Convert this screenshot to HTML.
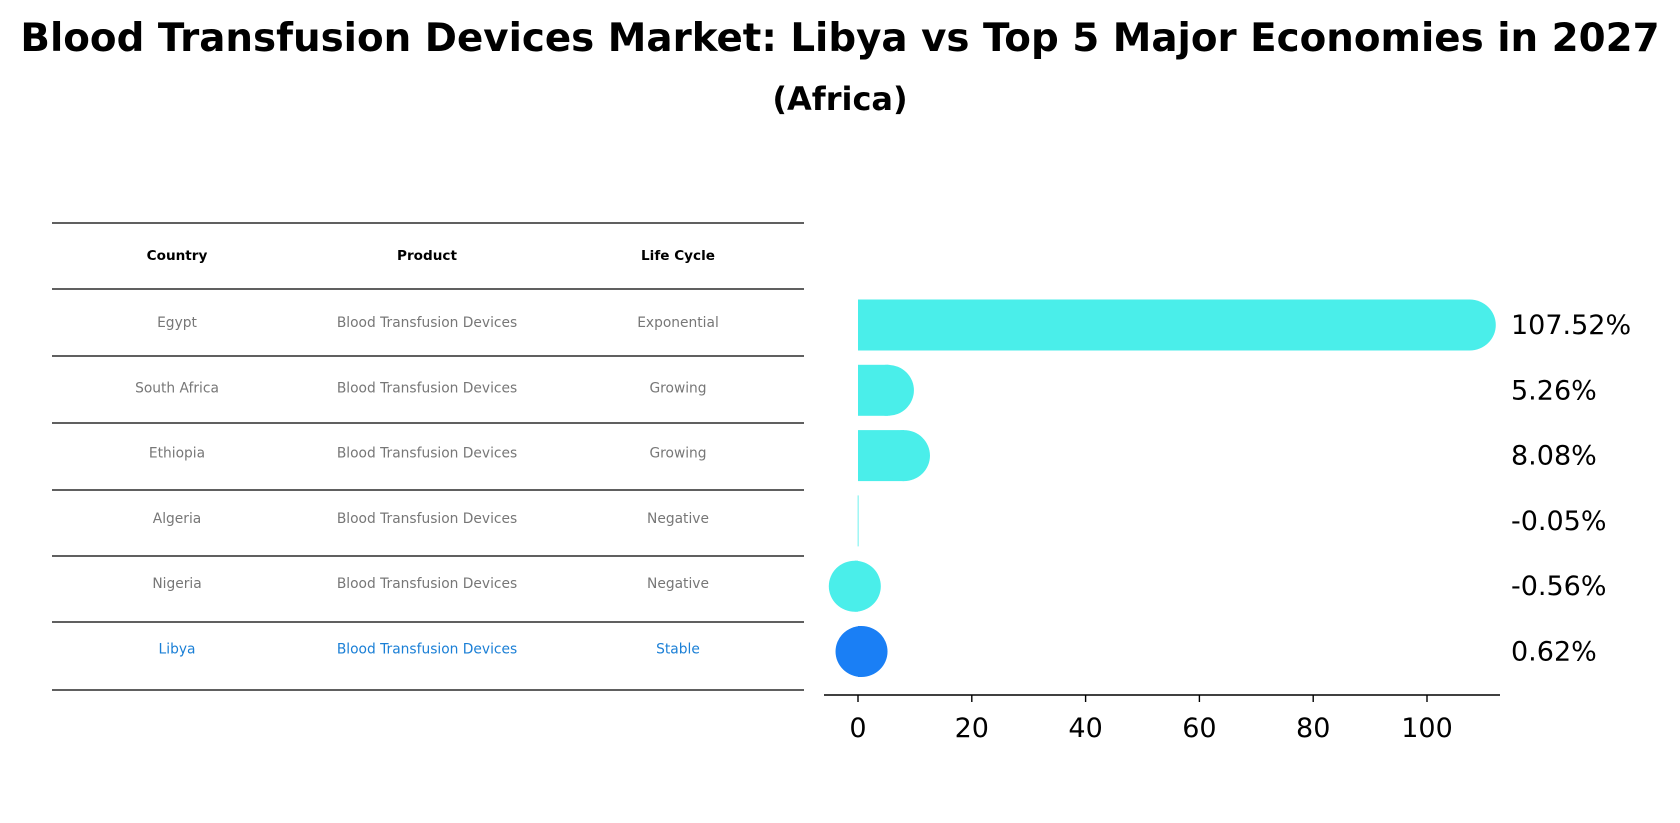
<!DOCTYPE html>
<html><head><meta charset="utf-8"><style>
body{margin:0;background:#fff;font-family:"DejaVu Sans","Liberation Sans",sans-serif}
svg{display:block}
</style></head><body>
<svg width="1680" height="823" id="c">
<text x="840" y="51" text-anchor="middle" font-size="38.8" font-weight="bold">Blood Transfusion Devices Market: Libya vs Top 5 Major Economies in 2027</text>
<text x="840" y="110" text-anchor="middle" font-size="32" font-weight="bold">(Africa)</text>
<g id="table"></g>
<g id="bars"></g>
</svg>
<script>
const countries=["Egypt","South Africa","Ethiopia","Algeria","Nigeria","Libya"];
const products=["Blood Transfusion Devices","Blood Transfusion Devices","Blood Transfusion Devices","Blood Transfusion Devices","Blood Transfusion Devices","Blood Transfusion Devices"];
const lifecycles=["Exponential","Growing","Growing","Negative","Negative","Stable"];
const values=[107.52,5.26,8.08,-0.05,-0.56,0.62];
const valueLabels=["107.52%","5.26%","8.08%","-0.05%","-0.56%","0.62%"];
const xTicks=[0,20,40,60,80,100];
const NS="http://www.w3.org/2000/svg";
function mk(t,a,p,txt){const e=document.createElementNS(NS,t);for(const k in a)e.setAttribute(k,a[k]);if(txt!==undefined)e.textContent=txt;p.appendChild(e);return e;}
const xs=v=>858+v*5.69;
const rowY=i=>325+i*65.3;
const tb=document.getElementById('table');
const lineYs=[223,289,356,423,490,556,622,690];
lineYs.forEach(y=>{const l=mk('line',{x1:52,x2:804,y1:y,y2:y,stroke:'#000','stroke-width':1.2},tb);

});
const cols=[177,427,678];
["Country","Product","Life Cycle"].forEach((h,j)=>{const t=mk('text',{x:cols[j],y:260,'text-anchor':'middle','font-size':13.6,'font-weight':'bold'},tb,h);

});
countries.forEach((c,i)=>{const y=rowY(i)+2;const col=i===5?'#1a7fd6':'#777';
[c,products[i],lifecycles[i]].forEach((s,j)=>{const t=mk('text',{x:cols[j],y:y,'text-anchor':'middle','font-size':13.8,fill:col},tb,s);

});});
const g=document.getElementById('bars');
const h=51;
values.forEach((v,i)=>{const y=rowY(i);const col=i===5?'#1a7ff5':'#4aeeea';
const x0=Math.min(xs(0),xs(v)),w=Math.max(Math.abs(xs(v)-xs(0)),0.8);
const r=mk('rect',{x:x0,y:y-h/2,width:w,height:h,fill:col},g);


if(Math.abs(v)>=0.1){const c=mk('ellipse',{cx:xs(v),cy:y,rx:26,ry:h/2,fill:col},g);

}
const t=mk('text',{x:1511,y:y+9,'font-size':27},g,valueLabels[i]);

});
const ax=mk('line',{x1:824,x2:1500,y1:695,y2:695,stroke:'#000','stroke-width':1.6},g);


xTicks.forEach(v=>{const l=mk('line',{x1:xs(v),x2:xs(v),y1:695,y2:702,stroke:'#000','stroke-width':1.4},g);


const t=mk('text',{x:xs(v),y:737,'text-anchor':'middle','font-size':27},g,String(v));

});
</script>
</body></html>
